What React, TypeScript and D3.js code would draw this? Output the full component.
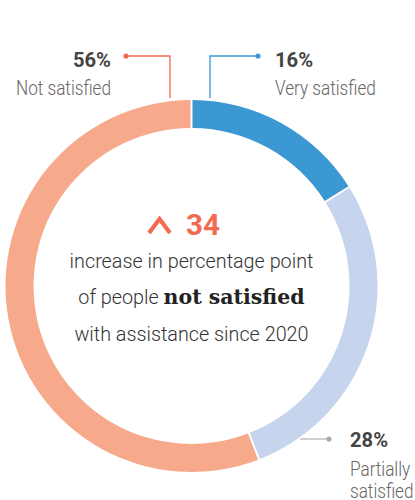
import React from "react";
import * as d3 from "d3";

const categories = ["Very satisfied", "Partially satisfied", "Not satisfied"];
const values = [16, 28, 56];
const colors = ["#3b98d3", "#c6d4ee", "#f6a98b"];
const lineColors = ["#3b98d3", "#b5b5b5", "#f26a4f"];
const headline = 34;
const centerLines = ["increase in percentage point", "of people ", "not satisfied", "with assistance since 2020"];

const font = "Roboto, sans-serif";
const gray = "#666";
const dark = "#444";

function Label({ x, y, anchor, text, bold }: { x: number; y: number; anchor: "start" | "end"; text: string; bold?: boolean }) {
  return (
    <text
      transform={`translate(${x},${y}) scale(${bold ? 0.96 : 0.87},1)`}
      textAnchor={anchor}
      fontFamily={font}
      fontWeight={bold ? 700 : 300}
      fontSize={bold ? 21 : 19.7}
      fill={bold ? dark : gray}
    >
      {text}
    </text>
  );
}

export default function App() {
  const W = 415, H = 500;
  const cx = 191.5, cy = 286, rO = 186, rI = 158;
  const pie = d3.pie<number>().sort(null).value((d) => d).padAngle(0.008);
  const arcs = pie(values);
  const arc = d3.arc<d3.PieArcDatum<number>>().innerRadius(rI).outerRadius(rO);
  return (
    <svg width={W} height={H} style={{ position: "absolute", left: 0, top: 0, background: "#fff" }}>
      <g transform={`translate(${cx},${cy})`}>
        {arcs.map((a, i) => (
          <path key={i} d={arc(a) || ""} fill={colors[i]} />
        ))}
      </g>
      {/* Not satisfied label */}
      <polyline points={`126,56 170,56 170,98`} fill="none" stroke={lineColors[2]} strokeWidth={1.3} />
      <circle cx={126} cy={56} r={2.6} fill={lineColors[2]} />
      <Label x={111} y={66.5} anchor="end" text={`${values[2]}%`} bold />
      <Label x={111} y={95} anchor="end" text={categories[2]} />
      {/* Very satisfied label */}
      <polyline points={`258,56 210,56 210,98`} fill="none" stroke={lineColors[0]} strokeWidth={1.3} />
      <circle cx={258} cy={56} r={2.6} fill={lineColors[0]} />
      <Label x={275} y={66.5} anchor="start" text={`${values[0]}%`} bold />
      <Label x={275} y={95} anchor="start" text={categories[0]} />
      {/* Partially satisfied label */}
      <line x1={300} y1={439} x2={329} y2={439} stroke={lineColors[1]} strokeWidth={1.3} />
      <circle cx={329} cy={439} r={2.6} fill="#aaa" />
      <Label x={350} y={446.5} anchor="start" text={`${values[1]}%`} bold />
      <Label x={350} y={476} anchor="start" text="Partially" />
      <Label x={350} y={498} anchor="start" text="satisfied" />
      {/* Center */}
      <path d="M149,233 L159.5,219 L170,233" fill="none" stroke="#f26a4f" strokeWidth={4.2} strokeLinejoin="miter" />
      <text x={186} y={235} textAnchor="start" fontFamily={font} fontWeight={700} fontSize={29.5} fill="#f26a4f">{headline}</text>
      <text x={cx} y={268} textAnchor="middle" fontFamily={font} fontWeight={300} fontSize={19.8} fill="#333">{centerLines[0]}</text>
      <text x={cx} y={304} textAnchor="middle" fontFamily={font} fontWeight={300} fontSize={19.8} fill="#333">
        {centerLines[1]}
        <tspan fontFamily="'DejaVu Serif', serif" fontWeight={700} fontSize={20.5} fill="#222">{centerLines[2]}</tspan>
      </text>
      <text x={cx} y={341} textAnchor="middle" fontFamily={font} fontWeight={300} fontSize={19.8} fill="#333">{centerLines[3]}</text>
    </svg>
  );
}
